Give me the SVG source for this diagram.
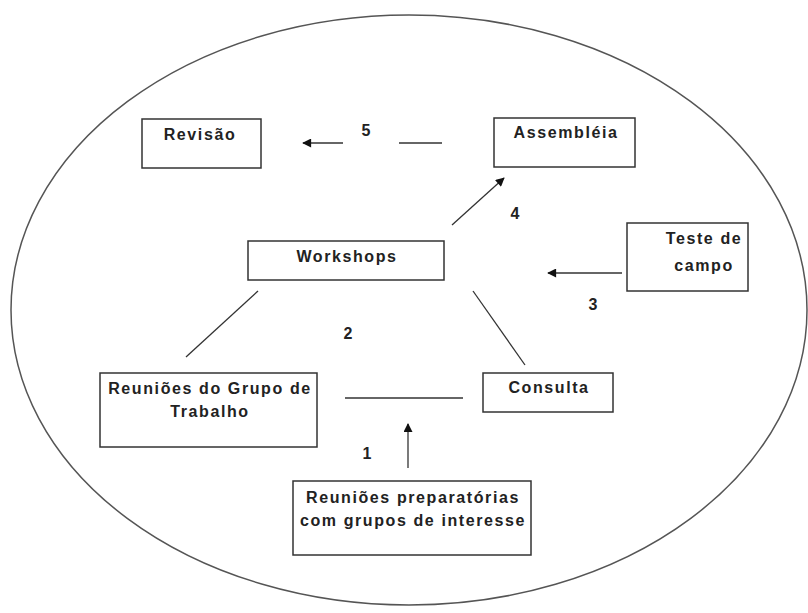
<svg xmlns="http://www.w3.org/2000/svg" width="808" height="613" viewBox="0 0 808 613">
<style>
.box{fill:#fff;stroke:#333;stroke-width:1.5}
.t{font-family:"Liberation Sans",Arial,sans-serif;font-size:16px;font-weight:bold;fill:#222;letter-spacing:1.6px;text-anchor:middle}
.n{font-family:"Liberation Sans",Arial,sans-serif;font-size:16px;font-weight:bold;fill:#222;text-anchor:middle}
.ln{stroke:#333;stroke-width:1.3;fill:none}
</style>
<defs>
<marker id="ah" viewBox="0 0 10 10" refX="9" refY="5" markerWidth="12" markerHeight="9" markerUnits="userSpaceOnUse" orient="auto">
<path d="M0,0 L10,5 L0,10 z" fill="#111"/>
</marker>
</defs>
<rect width="808" height="613" fill="#fff"/>
<ellipse cx="409" cy="310" rx="398" ry="295" fill="none" stroke="#555" stroke-width="1.5"/>
<g id="connectors">
<line class="ln" x1="343" y1="143" x2="303" y2="143" marker-end="url(#ah)"/>
<line class="ln" x1="399" y1="143" x2="442" y2="143"/>
<line class="ln" x1="452" y1="225" x2="504" y2="178" marker-end="url(#ah)"/>
<line class="ln" x1="622" y1="273" x2="548" y2="273" marker-end="url(#ah)"/>
<line class="ln" x1="258" y1="291" x2="186" y2="357"/>
<line class="ln" x1="473" y1="291" x2="525" y2="365"/>
<line class="ln" x1="345" y1="398" x2="463" y2="398"/>
<line class="ln" x1="408" y1="468" x2="408" y2="424" marker-end="url(#ah)"/>
<text class="n" x="366" y="136">5</text>
<text class="n" x="515" y="219">4</text>
<text class="n" x="593" y="310">3</text>
<text class="n" x="348" y="339">2</text>
<text class="n" x="367" y="459">1</text>
</g>
<g id="revisao">
<rect class="box" x="142" y="119" width="119" height="49"/>
<text class="t" x="200" y="140">Revisão</text>
</g>
<g id="assembleia">
<rect class="box" x="494" y="118" width="141" height="49"/>
<text class="t" x="566" y="138">Assembléia</text>
</g>
<g id="workshops">
<rect class="box" x="248" y="241" width="196" height="39"/>
<text class="t" x="347" y="262">Workshops</text>
</g>
<g id="teste">
<rect class="box" x="627" y="223" width="121" height="68"/>
<text class="t" x="704" y="244">Teste de</text>
<text class="t" x="704" y="271">campo</text>
</g>
<g id="reunioes-gt">
<rect class="box" x="100" y="373" width="217" height="74"/>
<text class="t" x="210" y="394">Reuniões do Grupo de</text>
<text class="t" x="210" y="417">Trabalho</text>
</g>
<g id="consulta">
<rect class="box" x="483" y="373" width="130" height="39"/>
<text class="t" x="549" y="393">Consulta</text>
</g>
<g id="reunioes-prep">
<rect class="box" x="293" y="481" width="238" height="74"/>
<text class="t" x="413" y="503">Reuniões preparatórias</text>
<text class="t" x="413" y="526">com grupos de interesse</text>
</g>
</svg>
